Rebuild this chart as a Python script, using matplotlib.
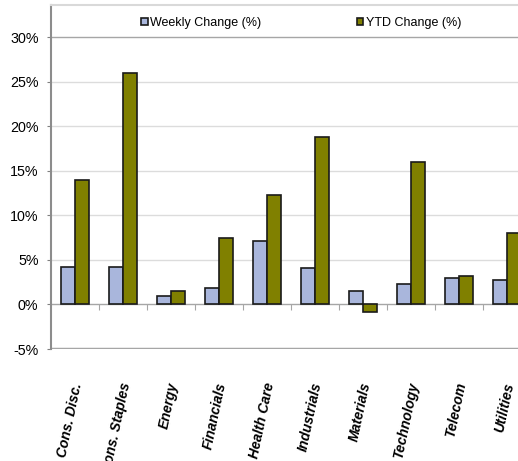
import matplotlib
matplotlib.use("Agg")
import matplotlib.pyplot as plt
import matplotlib.transforms as mtransforms
from matplotlib.patches import Patch
import numpy as np

plt.rcParams["font.family"] = ["Liberation Sans", "DejaVu Sans"]

sectors = ["Cons. Disc.", "Cons. Staples", "Energy", "Financials", "Health Care",
           "Industrials", "Materials", "Technology", "Telecom", "Utilities"]
weekly = [4.25, 4.2, 1.0, 1.8, 7.1, 4.1, 1.55, 2.35, 3.0, 2.8]
ytd = [14.0, 26.0, 1.5, 7.5, 12.3, 18.8, -0.85, 16.0, 3.15, 8.05]
y_ticks = [-5, 0, 5, 10, 15, 20, 25, 30]

W, H = 518, 461
fig = plt.figure(figsize=(W / 100, H / 100), dpi=100)
ax = fig.add_axes([51 / W, (H - 349) / H, 480 / W, 344 / H])

x = np.arange(len(sectors))
bw = 0.29
ax.bar(x - bw / 2, weekly, bw, color="#a9b6dc", edgecolor="#1a1a1a", linewidth=1.2,
       label="Weekly Change (%)", zorder=3)
ax.bar(x + bw / 2, ytd, bw, color="#808000", edgecolor="#1a1a1a", linewidth=1.2,
       label="YTD Change (%)", zorder=3)

ax.set_xlim(-0.5, len(sectors) - 0.5)
ax.set_ylim(-5, 33.65)
ax.set_yticks(y_ticks)
ax.set_yticklabels([f"{v}%" for v in y_ticks], fontsize=10.3)
ax.tick_params(axis="y", length=3, color="#808080", pad=6)

for v in y_ticks[2:-1]:
    ax.axhline(v, color="#dcdcdc", linewidth=1, zorder=1)
ax.axhline(30, color="#a6a6a6", linewidth=1, zorder=1)
ax.axhline(-5, color="#a6a6a6", linewidth=2.5, zorder=2)

# category axis sits on the zero line
ax.spines["bottom"].set_position(("data", 0))
ax.spines["bottom"].set_color("#a6a6a6")
ax.spines["bottom"].set_linewidth(1)
ax.spines["bottom"].set_zorder(2)
ax.set_xticks(x[1:] - 0.5)
ax.set_xticklabels([])
ax.tick_params(axis="x", length=4, color="#a6a6a6", direction="out")

ax.spines["left"].set_color("#8c8c8c")
ax.spines["left"].set_linewidth(1.5)
ax.spines["right"].set_visible(False)
ax.spines["top"].set_color("#d9d9d9")
ax.spines["top"].set_linewidth(1.5)

trans = mtransforms.blended_transform_factory(ax.transData, ax.transAxes)
for xi, name in zip(x, sectors):
    ax.text(xi + 0.06, -0.098, name, transform=trans, rotation=78, ha="right", va="center",
            rotation_mode="anchor", fontsize=10, fontweight="bold", fontstyle="italic")

handles = [Patch(facecolor="#a9b6dc", edgecolor="#1a1a1a", linewidth=1.2),
           Patch(facecolor="#808000", edgecolor="#1a1a1a", linewidth=1.2)]
fig.legend(handles, ["Weekly Change (%)", "YTD Change (%)"], ncol=2, frameon=False,
           loc="center left", bbox_to_anchor=(141 / W, 1 - 23 / H), fontsize=9,
           handlelength=0.55, handleheight=0.55, handletextpad=0.2,
           columnspacing=7.6, borderpad=0, borderaxespad=0)

fig.savefig("out.png", dpi=100)
